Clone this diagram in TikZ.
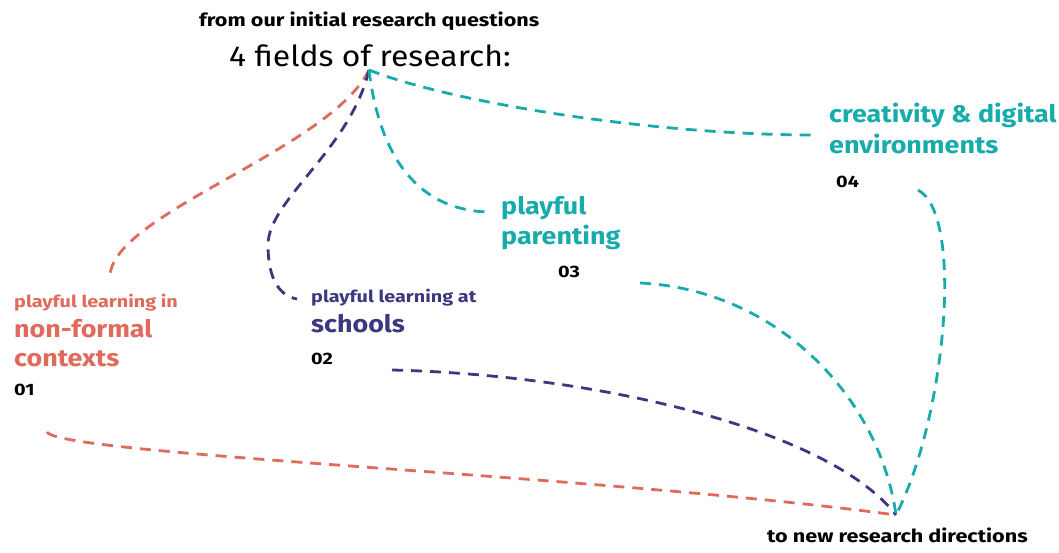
\documentclass[tikz,border=0pt]{standalone}
\usepackage{fontspec}
\setmainfont{Fira Sans}
\newfontfamily\headfont{Fira Sans}[FakeStretch=1.2]
\newfontfamily\namefont{Fira Sans}[FakeStretch=1.12]
\newfontfamily\titlefont{Fira Sans}[FakeStretch=1.1]
\definecolor{coral}{HTML}{E06A5B}
\definecolor{indigo}{HTML}{3B3880}
\definecolor{aqua}{HTML}{17ABAC}
\tikzset{
  trail/.style={line width=2.8pt, dash pattern=on 11pt off 8pt},
  txt/.style={anchor=north west, inner sep=0pt, align=left},
  headline/.style={txt, font=\headfont\bfseries\fontsize{18}{18}\selectfont},
  subline/.style={txt, font=\headfont\bfseries\fontsize{16.5}{16.5}\selectfont},
  fieldname/.style={txt, font=\namefont\bfseries\fontsize{24}{30}\selectfont},
  numtag/.style={txt, font=\headfont\bfseries\fontsize{16.5}{16.5}\selectfont}
}
\begin{document}
\begin{tikzpicture}[x=1pt,y=-1pt]
    \useasboundingbox (0,0) rectangle (1059,553);
    \node [headline] (from) at (199,12) {from our initial research questions};
    \node [txt, font=\titlefont\fontsize{29}{29}\selectfont] (fields) at (229,45) {4 fields of research:};
    \node [headline] (to) at (767,528) {to new research directions};
    % field 01
    \node [subline, text=coral] (sub1) at (14,294) {playful learning in};
    \node [fieldname, text=coral, font=\namefont\bfseries\fontsize{24}{29}\selectfont] (name1) at (14,319) {non-formal\\contexts};
    \node [numtag] (num1) at (14,384) {01};
    % field 02
    \node [subline, text=indigo] (sub2) at (311,289) {playful learning at};
    \node [fieldname, text=indigo] (name2) at (311,314) {schools};
    \node [numtag] (num2) at (311,353) {02};
    % field 03
    \node [fieldname, text=aqua] (name3) at (501,196) {playful\\parenting};
    \node [numtag] (num3) at (558,266) {03};
    % field 04
    \node [fieldname, text=aqua, font=\namefont\bfseries\fontsize{24}{31}\selectfont] (name4) at (829,103) {creativity \& digital\\environments};
    \node [numtag] (num4) at (836,176) {04};
    % hubs and free ends
    \coordinate (hub) at (369,70);
    \coordinate (sink) at (896,515);
    \coordinate (in1) at (110,278);
    \coordinate (in2) at (297,299);
    \coordinate (in3) at (488,212);
    \coordinate (in4) at (815,135);
    \coordinate (out1) at (47,432);
    \coordinate (out2) at (392,370);
    \coordinate (out3) at (640,283);
    \coordinate (out4) at (918,190);
    % from the questions
    \draw [trail, coral] (hub) .. controls (330,150) and (108,215) .. (in1);
    \draw [trail, indigo] (hub) .. controls (350,150) and (268,200) .. (268,245) .. controls (268,280) and (280,296) .. (in2);
    \draw [trail, aqua] (hub) .. controls (380,160) and (420,210) .. (in3);
    \draw [trail, aqua] (hub) .. controls (450,102) and (650,135) .. (in4);
    % to new directions
    \draw [trail, coral] (out1) .. controls (60,455) and (600,475) .. (sink);
    \draw [trail, indigo] (out2) .. controls (600,375) and (830,430) .. (sink);
    \draw [trail, aqua] (out3) .. controls (780,290) and (880,400) .. (sink);
    \draw [trail, aqua] (out4) .. controls (965,215) and (945,420) .. (sink);
\end{tikzpicture}
\end{document}
